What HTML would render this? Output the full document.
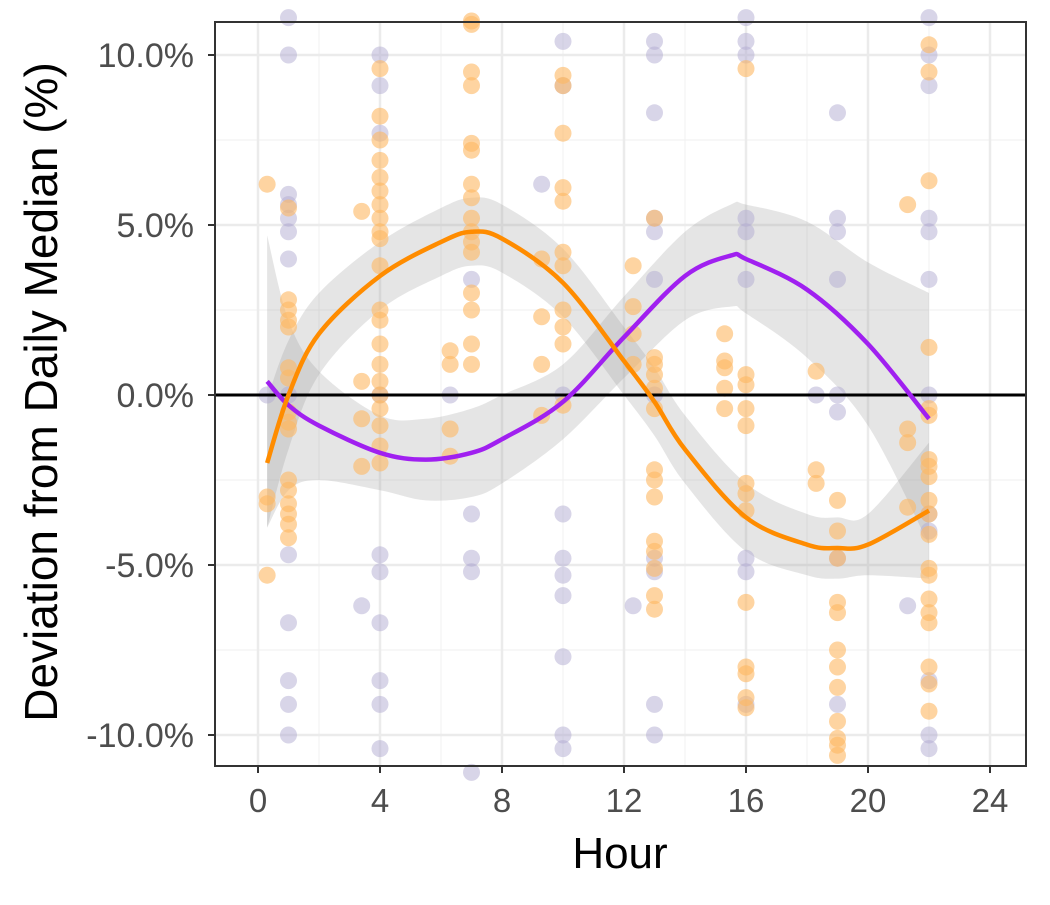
<!DOCTYPE html>
<html><head><meta charset="utf-8"><style>
body{margin:0;background:#fff;}
svg text{font-family:"Liberation Sans",Arial,sans-serif;}
</style></head><body>
<svg id="chart" width="1050" height="900" viewBox="0 0 1050 900">
<rect width="1050" height="900" fill="#fff"/>
<g id="grid"></g>
<g id="ribbons"></g>
<g id="points"></g>
<line id="zero" stroke="#000" stroke-width="3"/>
<g id="lines"></g>
<rect x="215" y="22" width="811" height="744" fill="none" stroke="#333" stroke-width="2"/>
<g id="axes"></g>
<text x="620" y="868" font-size="44" text-anchor="middle">Hour</text>
<text transform="translate(57,392) rotate(-90)" font-size="46" text-anchor="middle">Deviation from Daily Median (%)</text>
</svg>
<script>
const xTicks=[0,4,8,12,16,20,24];
const yTicks=[-10,-5,0,5,10];
const yTickLabels=["-10.0%","-5.0%","0.0%","5.0%","10.0%"];
const orangePts=[[0.3,[6.2,-3.0,-3.2,-5.3]],[1,[5.5,2.8,2.5,2.2,2.0,0.8,0.5,-0.5,-0.8,-1.0,-2.5,-2.8,-3.2,-3.5,-3.8,-4.2]],[3.4,[5.4,0.4,-0.7,-2.1]],[4,[9.6,8.2,7.5,6.9,6.4,6.0,5.6,5.2,4.8,4.6,3.8,2.5,2.2,1.5,0.9,0.4,0.0,-0.4,-0.9,-1.5,-2.0]],[6.3,[1.3,0.9,-1.0,-1.8]],[7,[11,10.9,9.5,9.1,7.4,7.2,6.2,5.8,5.2,4.8,4.5,4.2,3.0,2.5,1.5,0.9]],[9.3,[4.0,2.3,0.9,-0.6]],[10,[9.4,9.1,7.7,6.1,5.7,4.2,3.8,2.5,2.0,1.5,-0.3]],[12.3,[3.8,2.6,1.8,0.9]],[13,[5.2,1.1,0.9,0.6,0.2,-0.4,-2.2,-2.5,-3.0,-4.3,-4.6,-5.1,-5.9,-6.3]],[15.3,[1.8,1.0,0.8,0.2,-0.4]],[16,[9.6,0.6,0.3,-0.4,-0.9,-2.6,-2.9,-3.4,-6.1,-8.0,-8.2,-8.9,-9.2]],[18.3,[0.7,-2.2,-2.6]],[19,[-3.1,-4.0,-4.8,-6.1,-6.4,-7.5,-8.0,-8.6,-9.6,-10.1,-10.3,-10.6]],[21.3,[5.6,-1.0,-1.4,-3.3]],[22,[10.3,9.5,6.3,1.4,-0.4,-0.6,-1.9,-2.1,-2.4,-3.1,-3.5,-4.1,-5.1,-5.3,-6.0,-6.4,-6.7,-8.0,-8.5,-9.3]]];
const purplePts=[[0.3,[0.0]],[1,[11.1,10.0,5.9,5.6,5.2,4.8,4.0,0.0,-4.7,-6.7,-8.4,-9.1,-10.0]],[3.4,[-6.2]],[4,[10.0,9.1,7.7,0.0,-4.7,-5.2,-6.7,-8.4,-9.1,-10.4]],[6.3,[0.0]],[7,[3.4,-3.5,-4.8,-5.2,-11.1]],[9.3,[6.2]],[10,[10.4,9.1,0.0,-3.5,-4.8,-5.3,-5.9,-7.7,-10.0,-10.4]],[12.3,[-6.2]],[13,[10.4,10.0,8.3,5.2,4.8,3.4,0.0,-4.8,-5.2,-9.1,-10.0]],[16,[11.1,10.4,10.0,5.2,4.8,3.4,-4.8,-5.2,-9.1]],[18.3,[0.0]],[19,[8.3,5.2,4.8,3.4,0.0,-0.5,-4.8,-9.1]],[21.3,[-6.2]],[22,[11.1,10.0,9.1,5.2,4.8,3.4,0.0,-3.5,-4.0,-8.4,-10.0,-10.4]]];
const orangeX=[0.3,1,2,4,6,7,8,10,12,13,14,16,18,19,20,22];
const orangeY=[-2,0,1.8,3.5,4.5,4.8,4.6,3.3,1,-0.2,-1.6,-3.6,-4.4,-4.5,-4.4,-3.4];
const orangeSE=[1.9,1.6,1.2,1,1,1,1,1,1,1,1,1,0.9,0.9,0.9,2.0];
const purpleX=[0.3,1,2,4,5.5,7,8,10,12,14,15.5,16,18,20,22];
const purpleY=[0.4,-0.3,-0.9,-1.7,-1.9,-1.7,-1.3,-0.2,1.7,3.5,4.1,4.0,3.1,1.5,-0.7];
const purpleSE=[4.3,2.5,1.6,1.1,1.2,1.3,1.3,1.1,1.2,1.3,1.5,1.6,2.0,2.4,3.7];

const NS="http://www.w3.org/2000/svg";
const X0=215,X1=1026,Y0=22,Y1=766;
const sx=h=>258+h*(990-258)/24;
const sy=v=>395-v*(395-55)/10;
function mk(tag,attrs,parent){const e=document.createElementNS(NS,tag);for(const k in attrs)e.setAttribute(k,attrs[k]);parent.appendChild(e);return e;}
const grid=document.getElementById('grid');
mk('rect',{x:X0,y:Y0,width:X1-X0,height:Y1-Y0,fill:'#fff'},grid);
for(let h=2;h<=24;h+=4){const l=mk('line',{x1:sx(h),x2:sx(h),y1:Y0,y2:Y1,stroke:'#f2f2f2','stroke-width':1.2},grid);

}
for(const v of [-7.5,-2.5,2.5,7.5]){const l=mk('line',{x1:X0,x2:X1,y1:sy(v),y2:sy(v),stroke:'#f2f2f2','stroke-width':1.2},grid);

}
const axes=document.getElementById('axes');
xTicks.forEach(h=>{const l=mk('line',{x1:sx(h),x2:sx(h),y1:Y0,y2:Y1,stroke:'#ebebeb','stroke-width':2.5},grid);


const t=mk('line',{x1:sx(h),x2:sx(h),y1:Y1,y2:Y1+7,stroke:'#333','stroke-width':2},axes);


const tx=mk('text',{x:sx(h),y:Y1+46,'font-size':33,fill:'#4d4d4d','text-anchor':'middle'},axes);tx.textContent=h;

});
yTicks.forEach((v,i)=>{const l=mk('line',{x1:X0,x2:X1,y1:sy(v),y2:sy(v),stroke:'#ebebeb','stroke-width':2.5},grid);


const t=mk('line',{x1:X0-7,x2:X0,y1:sy(v),y2:sy(v),stroke:'#333','stroke-width':2},axes);


const tx=mk('text',{x:X0-21,y:sy(v)+12,'font-size':34,fill:'#4d4d4d','text-anchor':'end'},axes);tx.textContent=yTickLabels[i];

});
const ptsG=document.getElementById('points');
function drawPts(data,col,op,name){data.forEach(([h,vals])=>vals.forEach(v=>{const y=sy(v);if(y<Y0-8||y>Y1+8)return;
const c=mk('circle',{cx:sx(h),cy:y,r:8.5,fill:col,'fill-opacity':op},ptsG);

}));}
drawPts(purplePts,'#b2abd2',0.5,'purple-point');
drawPts(orangePts,'#fdb863',0.6,'orange-point');
function smooth(xs,ys){const p=xs.map((x,i)=>[sx(x),sy(ys[i])]);let d='M'+p[0][0]+','+p[0][1];
for(let i=0;i<p.length-1;i++){const p0=p[Math.max(0,i-1)],p1=p[i],p2=p[i+1],p3=p[Math.min(p.length-1,i+2)];
d+=' C'+(p1[0]+(p2[0]-p0[0])/6)+','+(p1[1]+(p2[1]-p0[1])/6)+' '+(p2[0]-(p3[0]-p1[0])/6)+','+(p2[1]-(p3[1]-p1[1])/6)+' '+p2[0]+','+p2[1];}return d;}
const rib=document.getElementById('ribbons');
function ribbon(xs,ys,se,name){const up=ys.map((y,i)=>y+se[i]),lo=ys.map((y,i)=>y-se[i]);
const a=smooth(xs,up);const rx=xs.slice().reverse(),rl=lo.slice().reverse();const b=smooth(rx,rl).replace('M','L');
const p=mk('path',{d:a+' '+b+' Z',fill:'#999','fill-opacity':0.25},rib);

}
ribbon(purpleX,purpleY,purpleSE,'purple-ribbon');
ribbon(orangeX,orangeY,orangeSE,'orange-ribbon');
const z=document.getElementById('zero');z.setAttribute('x1',X0);z.setAttribute('x2',X1);z.setAttribute('y1',sy(0));z.setAttribute('y2',sy(0));
const lg=document.getElementById('lines');
const lp=mk('path',{d:smooth(purpleX,purpleY),fill:'none',stroke:'#a020f0','stroke-width':4.5},lg);


const lo=mk('path',{d:smooth(orangeX,orangeY),fill:'none',stroke:'#ff8c00','stroke-width':4.5},lg);


</script>
</body></html>
